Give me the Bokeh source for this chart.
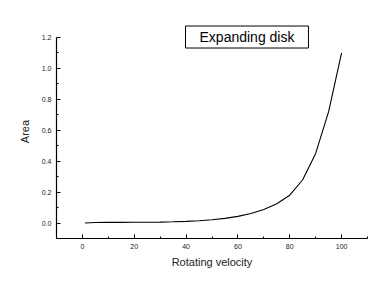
from bokeh.plotting import figure
from bokeh.models import Range1d, Label, FixedTicker, PrintfTickFormatter
from bokeh.embed import file_html
from bokeh.resources import INLINE

velocity = [1, 5, 10, 15, 20, 25, 30, 35, 40, 45, 50, 55, 60, 65, 70, 75, 80, 85, 90, 95, 100]
area = [0.0, 0.003, 0.004, 0.004, 0.005, 0.005, 0.006, 0.008, 0.011, 0.015, 0.021, 0.030,
        0.043, 0.062, 0.088, 0.125, 0.18, 0.28, 0.45, 0.72, 1.1]
x_ticks = [0, 20, 40, 60, 80, 100]
y_ticks = [0.0, 0.2, 0.4, 0.6, 0.8, 1.0, 1.2]
title_text = "Expanding disk"

p = figure(width=382, height=284, output_backend="svg", toolbar_location=None,
           x_range=Range1d(-10, 110), y_range=Range1d(-0.1, 1.284),
           min_border_left=56, min_border_right=15, min_border_top=24, min_border_bottom=46)
p.grid.visible = False
p.outline_line_color = None
p.background_fill_color = "white"
p.border_fill_color = "white"

p.line(velocity, area, line_color="black", line_width=1.1)

for ax in (p.xaxis[0], p.yaxis[0]):
    ax.major_tick_in = 4
    ax.major_tick_out = 0
    ax.minor_tick_in = 2
    ax.minor_tick_out = 0
    ax.axis_line_color = "black"
    ax.axis_line_width = 1.2
    ax.major_tick_line_color = "black"
    ax.minor_tick_line_color = "black"
    ax.major_label_text_font = "Liberation Sans"
    ax.major_label_text_font_size = "7px"
    ax.major_label_text_color = "#222222"
    ax.major_label_standoff = 5
    ax.axis_label_text_font = "Liberation Sans"
    ax.axis_label_text_font_size = "11px"
    ax.axis_label_text_font_style = "normal"
    ax.axis_label_text_color = "#222222"

p.xaxis[0].ticker = FixedTicker(ticks=x_ticks, minor_ticks=[-10, 10, 30, 50, 70, 90, 110])
p.yaxis[0].ticker = FixedTicker(ticks=y_ticks, minor_ticks=[-0.1, 0.1, 0.3, 0.5, 0.7, 0.9, 1.1])
p.yaxis[0].formatter = PrintfTickFormatter(format="%.1f")
p.yaxis[0].bounds = (-0.1, 1.2)
p.xaxis[0].axis_label = "Rotating velocity"
p.yaxis[0].axis_label = "Area"
p.xaxis[0].axis_label_standoff = 4
p.yaxis[0].axis_label_standoff = 8

lab = Label(x=63.5, y=1.203, text=title_text, text_align="center", text_baseline="middle",
            text_font="Liberation Sans", text_font_size="14px", text_color="black",
            border_line_color="black", border_line_width=1, background_fill_color="white",
            padding=(14, 3))
p.add_layout(lab)

open("out.html", "w").write(file_html(p, INLINE))
